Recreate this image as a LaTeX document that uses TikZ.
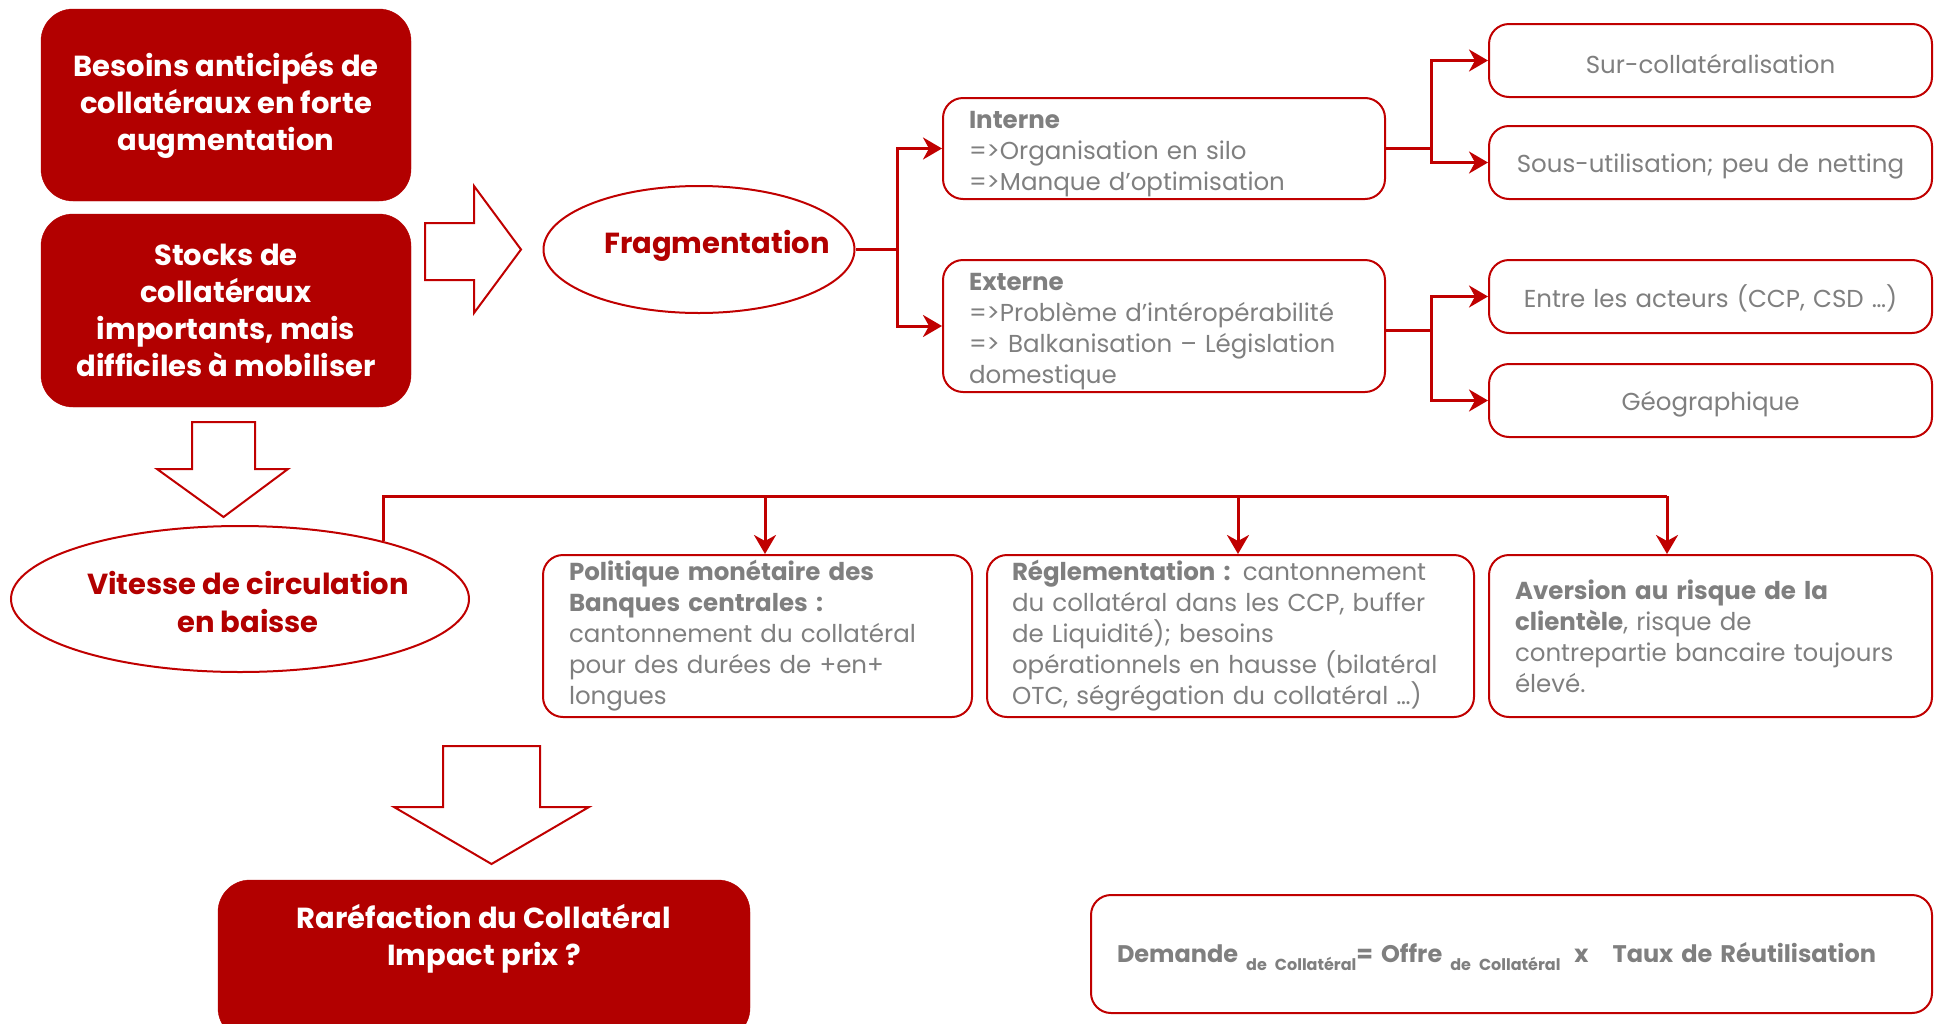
\documentclass[tikz,border=0pt]{standalone}
\usepackage{fontspec}
\setmainfont{Poppins}
\usetikzlibrary{arrows.meta,shapes.geometric,calc}
\definecolor{bred}{HTML}{B20000}
\definecolor{lred}{HTML}{C00000}
\definecolor{tgray}{HTML}{7F7F7F}

\begin{document}
\begin{tikzpicture}[x=1pt,y=-1pt,
  topstrut/.style={execute at begin node={\rule{0pt}{#1}}},
  redbox/.style={rounded corners=32pt, fill=bred, draw=bred, text=white,
    font=\bfseries\fontsize{29}{37}\selectfont, align=center, inner sep=0pt},
  whitetext/.style={text=white, font=\bfseries\fontsize{29}{37}\selectfont, align=center, inner sep=0pt},
  graybox/.style={rounded corners=20pt, draw=lred, line width=2pt, fill=white, text=tgray,
    font=\fontsize{24.5}{31}\selectfont, inner xsep=26pt, inner ysep=0pt},
  redoval/.style={ellipse, draw=lred, line width=2pt, fill=white, inner sep=0pt},
  redtext/.style={text=bred, font=\bfseries\fontsize{29}{38}\selectfont, align=center, inner sep=0pt},
  wire/.style={draw=lred, line width=3pt},
  link/.style={wire, -{Stealth[length=19pt,width=22pt,inset=6pt]}},
  bigarrow/.style={draw=lred, line width=2pt, fill=white, line join=miter},
]
\useasboundingbox (0,0) rectangle (1941,1023);

% starting situation
\node[redbox, topstrut=36pt, minimum width=370pt, minimum height=192pt] (besoins) at (226,105)
  {Besoins anticipés de\\collatéraux en forte\\augmentation};
\node[redbox, topstrut=36pt, minimum width=370pt, minimum height=193pt] (stocks) at (226,310.5)
  {Stocks de\\collatéraux\\importants, mais\\difficiles à mobiliser};

% fragmentation branch
\node[redoval, minimum width=311pt, minimum height=127pt] (frag) at (699,249.5) {};
\node[redtext] (fragtxt) at (717,246) {Fragmentation};

\node[graybox, topstrut=28pt, text width=390pt, align=left, minimum height=101pt] (int) at (1164,148.5)
  {\textbf{Interne}\\=>Organisation en silo\\=>Manque d’optimisation};
\node[graybox, topstrut=28pt, text width=390pt, align=left, minimum height=132pt] (ext) at (1164,326)
  {\textbf{Externe}\\=>Problème d’intéropérabilité\\=> Balkanisation – Législation\\domestique};

\node[graybox, topstrut=26pt, text width=391pt, align=center, minimum height=73pt] (sur) at (1710.5,60.5) {Sur-collatéralisation};
\node[graybox, topstrut=26pt, text width=391pt, align=center, minimum height=73pt] (sous) at (1710.5,162.5) {Sous-utilisation; peu de netting};
\node[graybox, topstrut=26pt, text width=391pt, align=center, minimum height=73pt] (entre) at (1710.5,296.5) {Entre les acteurs (CCP, CSD …)};
\node[graybox, topstrut=26pt, text width=391pt, align=center, minimum height=73pt] (geo) at (1710.5,400.5) {Géographique};

\coordinate (fj) at (897,249.5);
\draw[wire] (frag.east) -- (fj);
\draw[link] (fj) |- (int.west);
\draw[link] (fj) |- (ext.west);

\coordinate (ij) at (1431,148.5);
\draw[wire] (int.east) -- (ij);
\draw[link] (ij) |- (sur.west);
\draw[link] (ij) |- (sous.west);

\coordinate (ej) at (1431,330);
\draw[wire] (ext.east |- ej) -- (ej);
\draw[link] (ej) |- (entre.west);
\draw[link] (ej) |- (geo.west);

% circulation speed branch
\node[redoval, minimum width=458pt, minimum height=146pt] (vit) at (240,599) {};
\node[redtext] (vittxt) at (248,602) {Vitesse de circulation\\en baisse};

\node[graybox, text width=377pt, align=left, minimum height=162pt] (pol) at (757.5,636)
  {\textbf{Politique monétaire des}\\\textbf{Banques centrales :}\\cantonnement du collatéral\\pour des durées de +en+\\longues};
\node[graybox, text width=437pt, inner xsep=25pt, align=left, minimum height=162pt] (reg) at (1230.5,636)
  {\textbf{Réglementation :} cantonnement\\du collatéral dans les CCP, buffer\\de Liquidité); besoins\\opérationnels en hausse (bilatéral\\OTC, ségrégation du collatéral …)};
\node[graybox, text width=391pt, align=left, minimum height=162pt] (avr) at (1710.5,636)
  {\textbf{Aversion au risque de la}\\\textbf{clientèle}, risque de\\contrepartie bancaire toujours\\élevé.};

\coordinate (d1) at (765,496);
\coordinate (d2) at (1238,496);
\coordinate (d3) at (1667,496);
\draw[wire] (vit.22.5) |- (d3);
\draw[link] (d1) -- (d1 |- pol.north);
\draw[link] (d2) -- (d2 |- reg.north);
\draw[link] (d3) -- (d3 |- avr.north);

% conclusion
\node[redbox, minimum width=532pt, minimum height=160pt] (rar) at (484,960) {};
\node[whitetext] (rartxt) at (484,939) {Raréfaction du Collatéral\\Impact prix ?};

\node[graybox, topstrut=26pt, text width=789pt, align=left, minimum height=118pt,
  font=\bfseries\fontsize{24}{31}\selectfont] (eq) at (1511.5,954)
  {Demande \raisebox{-8pt}{\fontsize{16}{16}\selectfont de Collatéral}= Offre \raisebox{-8pt}{\fontsize{16}{16}\selectfont de Collatéral}\hspace{14pt}x\hspace{24pt}Taux de Réutilisation};

% block arrows
\draw[bigarrow] (425,223) -- (474,223) -- (474,186) -- (521,249.5) -- (474,313) -- (474,280) -- (425,280) -- cycle;
\draw[bigarrow] (192,422) -- (255,422) -- (255,469) -- (288,469) -- (223.5,517) -- (157,469) -- (192,469) -- cycle;
\draw[bigarrow] (443,746) -- (540,746) -- (540,807) -- (589,807) -- (491.5,864) -- (394,807) -- (443,807) -- cycle;
\end{tikzpicture}
\end{document}
